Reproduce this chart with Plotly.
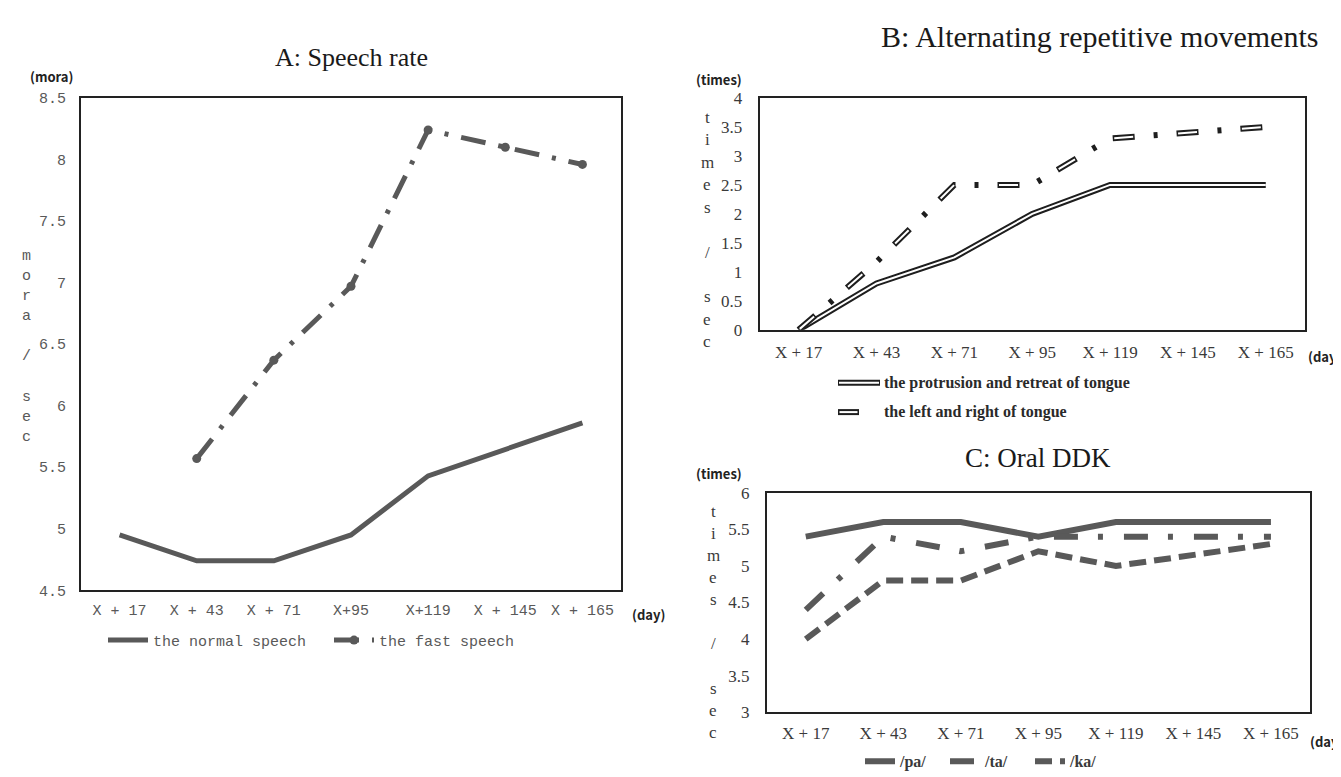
import plotly.graph_objects as go

W, H = 1341, 777

# ---------------- data ----------------
days_a = ["X + 17", "X + 43", "X + 71", "X+95", "X+119", "X + 145", "X + 165"]
days_bc = ["X + 17", "X + 43", "X + 71", "X + 95", "X + 119", "X + 145", "X + 165"]

normal_speech = [4.95, 4.74, 4.74, 4.95, 5.43, 5.64, 5.86]
fast_speech = [None, 5.57, 6.37, 6.97, 8.24, 8.10, 7.96]

protrusion = [0, 0.80, 1.25, 2.0, 2.5, 2.5, 2.5]
left_right = [0, 1.17, 2.5, 2.5, 3.3, 3.4, 3.5]

pa = [5.4, 5.6, 5.6, 5.4, 5.6, 5.6, 5.6]
ta = [4.4, 5.4, 5.2, 5.4, 5.4, 5.4, 5.4]
ka = [4.0, 4.8, 4.8, 5.2, 5.0, 5.15, 5.3]

ticks_a = [4.5, 5, 5.5, 6, 6.5, 7, 7.5, 8, 8.5]
ticks_b = [0, 0.5, 1, 1.5, 2, 2.5, 3, 3.5, 4]
ticks_c = [3, 3.5, 4, 4.5, 5, 5.5, 6]

label_a = ["m", "o", "r", "a", "", "/", "", "s", "e", "c"]
label_bc = ["t", "i", "m", "e", "s", "", "/", "", "s", "e", "c"]


def px(x):
    return x / W


def py(y):
    return 1 - y / H


GRAY = "#595959"
DARK = "#1e1e1e"
MONO = "Liberation Mono, DejaVu Sans Mono, monospace"
SERIF = "Liberation Serif, Times New Roman, serif"
SANS = "Noto Sans CJK JP, Noto Sans, sans-serif"

fig = go.Figure()

# ---------------- A: speech rate ----------------
fig.add_trace(go.Scatter(
    x=days_a, y=normal_speech, mode="lines", name="the normal speech",
    line=dict(color=GRAY, width=5), xaxis="x", yaxis="y", legend="legend"))
fig.add_trace(go.Scatter(
    x=days_a, y=fast_speech, mode="lines+markers", name="the fast speech",
    line=dict(color=GRAY, width=5, dash="25px,13px,4px,13px"),
    marker=dict(size=9, color=GRAY), connectgaps=False,
    xaxis="x", yaxis="y", legend="legend"))

# ---------------- B: alternating repetitive movements ----------------
fig.add_trace(go.Scatter(
    x=days_bc, y=protrusion, mode="lines", name="the protrusion and retreat of tongue",
    line=dict(color=DARK, width=6), xaxis="x2", yaxis="y2", showlegend=False))
fig.add_trace(go.Scatter(
    x=days_bc, y=protrusion, mode="lines", name="the protrusion and retreat of tongue",
    line=dict(color="white", width=2), xaxis="x2", yaxis="y2", showlegend=False))
fig.add_trace(go.Scatter(
    x=days_bc, y=left_right, mode="lines", name="the left and right of tongue",
    line=dict(color=DARK, width=6, dash="22px,19px,4px,19px"),
    xaxis="x2", yaxis="y2", showlegend=False))
fig.add_trace(go.Scatter(
    x=days_bc, y=left_right, mode="lines", name="the left and right of tongue",
    line=dict(color="white", width=2, dash="0px,1.5px,19px,43.5px"),
    xaxis="x2", yaxis="y2", showlegend=False))

# ---------------- C: oral DDK ----------------
fig.add_trace(go.Scatter(
    x=days_bc, y=pa, mode="lines", name="/pa/",
    line=dict(color=GRAY, width=6), xaxis="x3", yaxis="y3", legend="legend3"))
fig.add_trace(go.Scatter(
    x=days_bc, y=ta, mode="lines", name="/ta/",
    line=dict(color=GRAY, width=6, dash="24px,20px,5px,21px"),
    xaxis="x3", yaxis="y3", legend="legend3"))
fig.add_trace(go.Scatter(
    x=days_bc, y=ka, mode="lines", name="/ka/",
    line=dict(color=GRAY, width=6, dash="17px,8px"),
    xaxis="x3", yaxis="y3", legend="legend3"))


def xaxis(domain, anchor, font, standoff):
    return dict(domain=domain, anchor=anchor, type="category", range=[-0.5, 6.5],
                showline=True, mirror=True, linecolor="#222222", linewidth=2,
                showgrid=False, zeroline=False, ticks="", tickfont=font,
                ticklabelstandoff=standoff, fixedrange=True)


def yaxis(domain, anchor, rng, vals, font, standoff):
    return dict(domain=domain, anchor=anchor, range=rng, tickmode="array",
                tickvals=vals, ticktext=[f"{v:g}" for v in vals],
                showline=True, mirror=True, linecolor="#222222", linewidth=2,
                showgrid=False, zeroline=False, ticks="", tickfont=font,
                ticklabelstandoff=standoff, fixedrange=True)


font_a = dict(family=MONO, size=15, color=GRAY)
font_bc = dict(family=SERIF, size=17, color="#3a3a3a")

fig.update_layout(
    width=W, height=H,
    margin=dict(l=0, r=0, t=0, b=0),
    paper_bgcolor="white", plot_bgcolor="white",
    xaxis=xaxis([px(73), px(613)], "y", font_a, 5),
    yaxis=yaxis([py(587.7), py(83)], "x", [4.5, 8.5], ticks_a, font_a, 10),
    xaxis2=xaxis([px(751.7), px(1296.7)], "y2", font_bc, 6),
    yaxis2=yaxis([py(320.7), py(83)], "x2", [0, 4], ticks_b, font_bc, 12),
    xaxis3=xaxis([px(759), px(1301.7)], "y3", font_bc, 4),
    yaxis3=yaxis([py(712.7), py(487.7)], "x3", [3, 6], ticks_c, font_bc, 12),
    legend=dict(orientation="h", x=px(95), y=py(639), xanchor="left", yanchor="middle",
                font=dict(family=MONO, size=15, color=GRAY), bgcolor="rgba(0,0,0,0)",
                itemwidth=40, entrywidth=171, traceorder="normal"),
    legend3=dict(orientation="h", x=px(852), y=py(763), xanchor="left", yanchor="middle",
                 font=dict(family=SERIF, size=16, color="#3a3a3a", weight="bold"),
                 bgcolor="rgba(0,0,0,0)", itemwidth=30, entrywidth=40, traceorder="normal"),
    showlegend=True,
)

ann = []
# titles
ann.append(dict(text="A: Speech rate", x=px(343), y=py(42), font=dict(family=SERIF, size=26, color="#1a1a1a")))
ann.append(dict(text="B: Alternating repetitive movements", x=px(1091), y=py(20), font=dict(family=SERIF, size=30, color="#1a1a1a")))
ann.append(dict(text="C: Oral DDK", x=px(1030), y=py(452), font=dict(family=SERIF, size=27, color="#1a1a1a")))
# unit labels
unit_font = dict(family=SANS, size=13, color="#222222", weight="bold")
ann.append(dict(text="(mora)", x=px(43), y=py(61), font=unit_font))
ann.append(dict(text="(day)", x=px(640), y=py(612), font=unit_font))
ann.append(dict(text="(times)", x=px(711), y=py(64), font=unit_font))
ann.append(dict(text="(day)", x=px(1316), y=py(348), font=unit_font))
ann.append(dict(text="(times)", x=px(711), y=py(468), font=unit_font))
ann.append(dict(text="(day)", x=px(1318), y=py(743), font=unit_font))
# vertical axis titles, one glyph per line
for i, ch in enumerate(label_a):
    if ch:
        ann.append(dict(text=ch, x=px(18), y=py(245 + 20.7 * i), font=dict(family=MONO, size=15, color=GRAY)))
for i, ch in enumerate(label_bc):
    if ch:
        ann.append(dict(text=ch, x=px(699), y=py(103 + 23 * i), font=dict(family=SERIF, size=17, color="#3a3a3a")))
        ann.append(dict(text=ch, x=px(705), y=py(506.5 + 22.7 * i), font=dict(family=SERIF, size=17, color="#3a3a3a")))
# legend B texts
leg_font = dict(family=SERIF, size=16, color="#2a2a2a", weight="bold")
ann.append(dict(text="the protrusion and retreat of tongue", x=px(874), y=py(375), xanchor="left", font=leg_font))
ann.append(dict(text="the left and right of tongue", x=px(874), y=py(405), xanchor="left", font=leg_font))

for a in ann:
    a.setdefault("xref", "paper")
    a.setdefault("yref", "paper")
    a.setdefault("showarrow", False)
    a.setdefault("xanchor", "center")
    a.setdefault("yanchor", "middle")
fig.update_layout(annotations=ann)

# legend B samples (outlined line and outlined dash)
shapes = [
    dict(type="line", xref="paper", yref="paper", x0=px(830), x1=px(872), y0=py(375), y1=py(375),
         line=dict(color=DARK, width=6)),
    dict(type="line", xref="paper", yref="paper", x0=px(831), x1=px(871), y0=py(375), y1=py(375),
         line=dict(color="white", width=2)),
    dict(type="line", xref="paper", yref="paper", x0=px(830), x1=px(851), y0=py(405), y1=py(405),
         line=dict(color=DARK, width=6)),
    dict(type="line", xref="paper", yref="paper", x0=px(831.5), x1=px(849.5), y0=py(405), y1=py(405),
         line=dict(color="white", width=2)),
]
fig.update_layout(shapes=shapes)

fig.write_html("out.html")
